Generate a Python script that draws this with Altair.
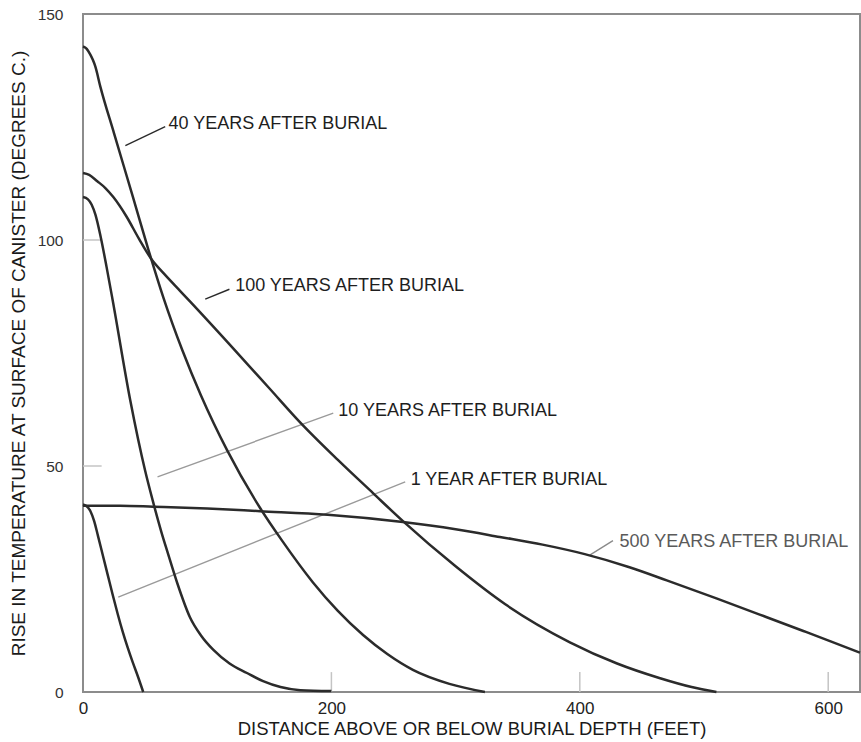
import altair as alt
import pandas as pd

# ---- curve data (distance in feet, temperature rise in deg C) ----
x_1yr = [0, 3, 6, 9, 12, 16, 20, 24, 28, 32, 36, 40, 44, 48.5]
y_1yr = [41.5, 41.1, 40.0, 37.8, 34.6, 30.2, 25.8, 21.4, 17.2, 13.3, 9.8, 6.6, 3.6, 0.0]

x_10yr = [0, 4, 7, 10, 14, 19, 24, 38, 50, 56, 63, 68, 76, 86, 95, 105, 118, 132, 145, 159, 175, 200]
y_10yr = [109.5, 109.0, 107.8, 105.6, 101.0, 94.0, 86.5, 64.6, 49.0, 42.5, 35.5, 31.0, 24.0, 16.6, 12.5, 9.3, 6.3, 4.2, 2.4, 1.1, 0.4, 0.2]

x_40yr = [0, 3, 5.9, 8, 9.9, 13.9, 25, 40, 52.5, 64.8, 80, 95, 116, 142.6, 160, 185, 205, 225.5, 245, 265.6, 295, 323.6]
y_40yr = [142.8, 142.3, 141.0, 139.8, 138.4, 134.0, 123.6, 109.7, 98.0, 87.2, 75.6, 65.6, 53.5, 40.7, 33.6, 24.3, 18.0, 12.6, 8.4, 4.9, 1.8, 0]

x_100yr = [0, 5, 11.5, 18, 24.4, 35, 45, 55, 65, 78.3, 86.5, 120, 150, 175, 205, 233.5, 257.6, 300, 340, 392, 430, 464, 490, 510]
y_100yr = [114.8, 114.4, 113.0, 111.5, 109.5, 105.2, 100.3, 95.8, 92.6, 88.7, 86.3, 76.3, 67.2, 59.6, 51.4, 44.0, 37.8, 27.8, 19.4, 11.0, 6.3, 3.1, 1.1, 0]

x_500yr = [0, 30, 56.5, 100, 142.6, 197, 257.6, 300, 335.6, 370, 404, 440, 470, 510, 550, 580, 603, 625.6]
y_500yr = [41.2, 41.2, 41.0, 40.6, 40.0, 39.2, 37.6, 36.0, 34.3, 32.6, 30.5, 27.6, 24.7, 20.7, 16.6, 13.5, 11.1, 8.7]

# ---- annotations ----
label_texts = ["40 YEARS AFTER BURIAL", "100 YEARS AFTER BURIAL", "10 YEARS AFTER BURIAL",
               "1 YEAR AFTER BURIAL", "500 YEARS AFTER BURIAL"]
label_x = [68.9, 122.5, 205.6, 263.8, 432.0]
label_y = [125.6, 89.8, 62.1, 46.9, 33.25]
label_color = ["#1e1e1e", "#1e1e1e", "#1e1e1e", "#1e1e1e", "#5a5a5a"]

leader_x1 = [34.1, 98.4, 60.0, 28.4, 408.0]
leader_y1 = [120.9, 86.9, 47.6, 21.0, 30.3]
leader_x2 = [66.2, 117.9, 201.5, 259.4, 426.7]
leader_y2 = [125.1, 89.1, 61.7, 46.5, 33.5]
leader_color = ["#2a2a2a", "#2a2a2a", "#9a9a9a", "#9a9a9a", "#8a8a8a"]

x_ticks = [0, 200, 400, 600]
y_ticks = [0, 50, 100, 150]
x_stub_vals = [200, 400, 600]
y_stub_vals = [50, 100]

X_MAX = 625.6
Y_MAX = 150

# ---- build tables ----
rows = []
for name, xs, ys in [("1", x_1yr, y_1yr), ("10", x_10yr, y_10yr), ("40", x_40yr, y_40yr),
                     ("100", x_100yr, y_100yr), ("500", x_500yr, y_500yr)]:
    for a, b in zip(xs, ys):
        rows.append({"series": name, "x": a, "y": b})
curves = pd.DataFrame(rows)

labels = pd.DataFrame({"x": label_x, "y": label_y, "text": label_texts, "color": label_color})
leaders = pd.DataFrame({"x": leader_x1, "y": leader_y1, "x2": leader_x2, "y2": leader_y2,
                        "color": leader_color})
xstubs = pd.DataFrame({"x": x_stub_vals, "y": [0] * 3, "y2": [4.4] * 3})
ystubs = pd.DataFrame({"y": y_stub_vals, "x": [0] * 2, "x2": [15] * 2})

xscale = alt.Scale(domain=[0, X_MAX], nice=False, zero=False)
yscale = alt.Scale(domain=[0, Y_MAX], nice=False, zero=False)

xaxis = alt.Axis(values=x_ticks, title="DISTANCE ABOVE OR BELOW BURIAL DEPTH (FEET)",
                 grid=False, ticks=False, tickSize=0, domain=False,
                 labelFont="Liberation Sans", labelFontSize=17, labelColor="#222222",
                 labelPadding=8, labelFlush=False,
                 titleFont="Liberation Sans", titleFontSize=18.5, titleFontWeight="normal",
                 titleColor="#1a1a1a", titlePadding=3)
yaxis = alt.Axis(values=y_ticks, title="RISE IN TEMPERATURE AT SURFACE OF CANISTER (DEGREES C.)",
                 grid=False, ticks=False, tickSize=0, domain=False,
                 labelFont="Liberation Sans", labelFontSize=15.5, labelColor="#333333",
                 labelPadding=20, labelFlush=False,
                 titleFont="Liberation Sans", titleFontSize=19, titleFontWeight="normal",
                 titleColor="#1a1a1a", titlePadding=9)

base_x = alt.X("x:Q", scale=xscale, axis=xaxis)
base_y = alt.Y("y:Q", scale=yscale, axis=yaxis)

lines = alt.Chart(curves).mark_line(interpolate="monotone", color="#2b2b2b", strokeWidth=2.5).encode(
    x=base_x, y=base_y, detail="series:N", order="x:Q")

xstub_layer = alt.Chart(xstubs).mark_rule(color="#c4c4c4", strokeWidth=1.5).encode(
    x=alt.X("x:Q", scale=xscale), y=alt.Y("y:Q", scale=yscale), y2="y2:Q")
ystub_layer = alt.Chart(ystubs).mark_rule(color="#c4c4c4", strokeWidth=1.5).encode(
    y=alt.Y("y:Q", scale=yscale), x=alt.X("x:Q", scale=xscale), x2="x2:Q")

leader_layer = alt.Chart(leaders).mark_rule(strokeWidth=1.4).encode(
    x=alt.X("x:Q", scale=xscale), y=alt.Y("y:Q", scale=yscale), x2="x2:Q", y2="y2:Q",
    color=alt.Color("color:N", scale=None))

text_layer = alt.Chart(labels).mark_text(align="left", baseline="middle", font="Liberation Sans",
                                         fontSize=18).encode(
    x=alt.X("x:Q", scale=xscale), y=alt.Y("y:Q", scale=yscale), text="text:N",
    color=alt.Color("color:N", scale=None))

chart = alt.layer(xstub_layer, ystub_layer, leader_layer, lines, text_layer).properties(
    width=777, height=678,
    autosize=alt.AutoSizeParams(type="none"),
    padding={"left": 83, "top": 14, "right": 1, "bottom": 50},
    background="white",
).configure_view(stroke="#8c8c8c", strokeWidth=2)

chart.save("out.html", embed_options={"renderer": "svg", "actions": False})
